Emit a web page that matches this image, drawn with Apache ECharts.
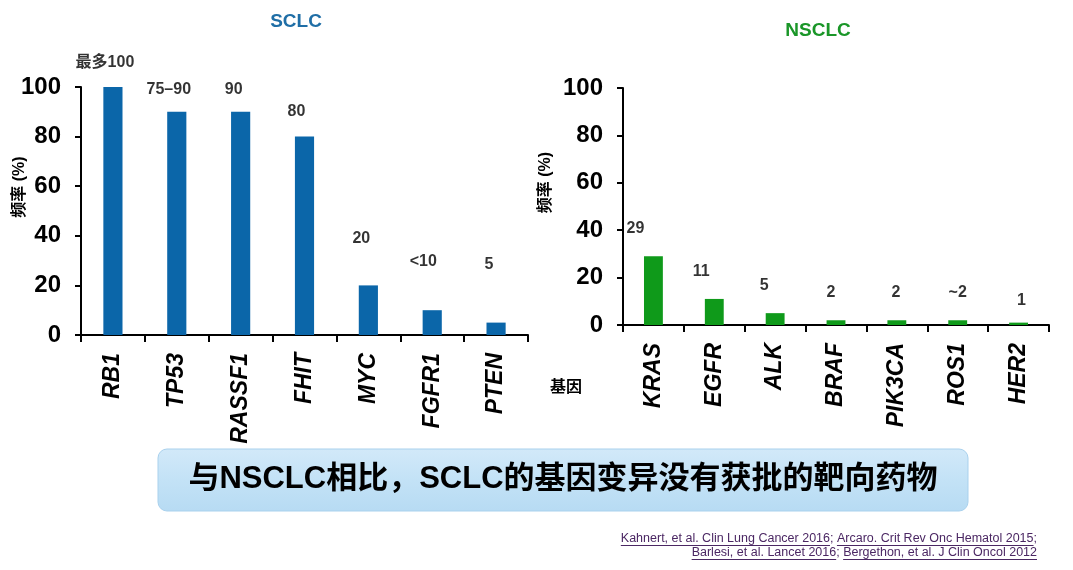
<!DOCTYPE html>
<html><head><meta charset="utf-8">
<script src="https://cdn.jsdelivr.net/npm/echarts@6/dist/echarts.min.js"></script>
<style>html,body{margin:0;padding:0;background:#fff}#c{width:1073px;height:570px}</style>
</head><body><div id="c"></div>
<script>
// ---- data ----
const sclcGenes = ['RB1','TP53','RASSF1','FHIT','MYC','FGFR1','PTEN'];
const sclcFreq = [100,90,90,80,20,10,5];
const sclcLabels = ['最多100','75–90','90','80','20','<10','5'];
const sclcLabelLevel = [110,99,99,90,39,29.5,28.5];
const nsclcGenes = ['KRAS','EGFR','ALK','BRAF','PIK3CA','ROS1','HER2'];
const nsclcFreq = [29,11,5,2,2,2,1];
const nsclcLabels = ['29','11','5','2','2','~2','1'];
const nsclcLabelLevel = [40.7,22.4,16.5,13.5,13.5,13.5,10.5];
const yTicks = [0,20,40,60,80,100];
const bannerText = '与NSCLC相比，SCLC的基因变异没有获批的靶向药物';
const citations = [
  [['Kahnert, et al. Clin Lung Cancer 2016', true], ['; ', false], ['Arcaro. Crit Rev Onc Hematol 2015', true], [';', false]],
  [['Barlesi, et al. Lancet 2016', true], ['; ', false], ['Bergethon, et al. J Clin Oncol 2012', true]]
];

// ---- styles ----
const FONT = 'Arial, "Liberation Sans", sans-serif';
const CJK = 'Arial, "Liberation Sans", "Noto Sans CJK SC", sans-serif';
const BLUE = '#0b66a9', GREEN = '#0f9a1a';
const sclcNudge = [-8,-8,-7,-8,-7,-9,-7];
const nsclcNudge = [-18,-13,-11,-5,-1,0,3];

function yAxis(gridIndex, nameGap) {
  return {
    type:'value', gridIndex, min:yTicks[0], max:yTicks[yTicks.length-1], interval:yTicks[1]-yTicks[0],
    name:'频率 (%)', nameLocation:'middle', nameRotate:90, nameGap, nameMoveOverlap:false,
    nameTextStyle:{fontSize:16, fontWeight:'bold', color:'#000', fontFamily:CJK, padding:[0,0,0,48]},
    axisLine:{show:true, lineStyle:{color:'#000', width:2}},
    axisTick:{show:true, length:6, lineStyle:{color:'#000', width:2}},
    splitLine:{show:false},
    axisLabel:{fontSize:24, fontWeight:'bold', color:'#000', fontFamily:FONT, margin:20}
  };
}
function xAxis(gridIndex, data) {
  return {
    type:'category', gridIndex, data, boundaryGap:true,
    axisLine:{show:true, lineStyle:{color:'#000', width:2}},
    axisTick:{show:true, length:7, alignWithLabel:false, interval:0, lineStyle:{color:'#000', width:2}},
    axisLabel:{interval:0, rotate:90, fontSize:23, fontWeight:'bold', fontStyle:'italic', color:'#000', fontFamily:FONT, margin:18}
  };
}
function labelSeries(idx, levels, texts, nudge) {
  return {
    type:'scatter', xAxisIndex:idx, yAxisIndex:idx, symbolSize:1, clip:false, silent:true, z:5,
    itemStyle:{color:'transparent'},
    data: levels.map((v,i)=>({value:v, label:{offset:[nudge[i],0]}})),
    label:{show:true, position:'inside', color:'#000', fontSize:16, fontWeight:'bold', fontFamily:CJK,
      formatter: p => texts[p.dataIndex]}
  };
}

// citations with underlines
const ctx = document.createElement('canvas').getContext('2d');
const citeFont = '12.5px Arial, "Liberation Sans", sans-serif';
const citeColor = '#4b2763';
ctx.font = citeFont;
const graphics = [];
citations.forEach((segs, li) => {
  const total = segs.reduce((s, seg) => s + ctx.measureText(seg[0]).width, 0);
  let x = 1037 - total;
  const y = 539 + li * 13.5;
  segs.forEach(([t, u]) => {
    const w = ctx.measureText(t).width;
    graphics.push({type:'text', x, y, silent:true, style:{text:t, font:citeFont, fill:citeColor, align:'left', verticalAlign:'middle'}});
    if (u) graphics.push({type:'line', silent:true, shape:{x1:x, y1:Math.round(y+6)+0.5, x2:x+w, y2:Math.round(y+6)+0.5}, style:{stroke:citeColor, lineWidth:1}});
    x += w;
  });
});
graphics.push({type:'rect', silent:true, shape:{x:158, y:449, width:810, height:62, r:9},
  style:{fill:new echarts.graphic.LinearGradient(0,0,0,1,[{offset:0,color:'#d2e9f9'},{offset:0.5,color:'#c3e2f6'},{offset:1,color:'#b7dbf3'}]), stroke:'#a9d1ed', lineWidth:1}});
graphics.push({type:'text', silent:true, x:563, y:479, style:{text:bannerText, font:'bold 31px Arial, "Liberation Sans", "Noto Sans CJK SC", sans-serif', fill:'#000', align:'center', verticalAlign:'middle'}});
graphics.push({type:'text', silent:true, x:582, y:386, style:{text:'基因', font:'bold 16px "Noto Sans CJK SC", sans-serif', fill:'#000', align:'right', verticalAlign:'middle'}});

const chart = echarts.init(document.getElementById('c'));
chart.setOption({
  backgroundColor:'#fff',
  animation:false,
  title:[
    {text:'SCLC', left:296, top:12, textAlign:'center', padding:0, textStyle:{fontSize:19, fontWeight:'bold', color:'#1f6ea6', fontFamily:FONT}},
    {text:'NSCLC', left:818, top:21, textAlign:'center', padding:0, textStyle:{fontSize:19, fontWeight:'bold', color:'#1a9628', fontFamily:FONT}}
  ],
  grid:[
    {left:81, top:87, width:447, height:248},
    {left:623, top:88, width:426, height:237}
  ],
  xAxis:[ xAxis(0, sclcGenes), xAxis(1, nsclcGenes) ],
  yAxis:[ yAxis(0, 53), yAxis(1, 69) ],
  series:[
    {type:'bar', xAxisIndex:0, yAxisIndex:0, data:sclcFreq, barWidth:'30%', itemStyle:{color:BLUE}, silent:true},
    {type:'bar', xAxisIndex:1, yAxisIndex:1, data:nsclcFreq, barWidth:'31%', itemStyle:{color:GREEN}, silent:true},
    labelSeries(0, sclcLabelLevel, sclcLabels, sclcNudge),
    labelSeries(1, nsclcLabelLevel, nsclcLabels, nsclcNudge)
  ],
  graphic: graphics
});
</script>
</body></html>
